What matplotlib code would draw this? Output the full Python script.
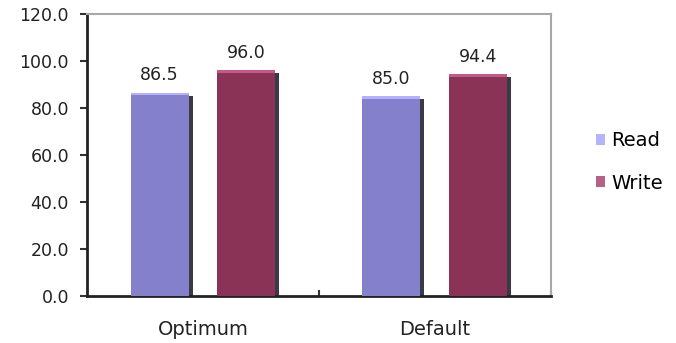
import matplotlib
matplotlib.use("Agg")
import matplotlib.pyplot as plt
import matplotlib.transforms as mtransforms
from matplotlib.patches import Patch
import numpy as np

categories = ["Optimum", "Default"]
series_names = ["Read", "Write"]
read_values = [86.5, 85.0]
write_values = [96.0, 94.4]
y_ticks = [0, 20, 40, 60, 80, 100, 120]

colors = {"Read": "#8480cc", "Write": "#8b3257"}
tops = {"Read": "#b4b0ff", "Write": "#c25a85"}
legend_colors = {"Read": "#b3b3ff", "Write": "#b86088"}

fig = plt.figure(figsize=(6.76, 3.43), dpi=100)
ax = fig.add_axes([87/676, 47/343, 464/676, 282/343])

x = np.arange(len(categories))
width = 0.25
offsets = [-0.1875, 0.1875]
shadow = mtransforms.ScaledTranslation(4/100, -3/100, fig.dpi_scale_trans)
for name, vals, off in zip(series_names, [read_values, write_values], offsets):
    # shadow
    ax.bar(x + off, vals, width, color="#3a3a44", zorder=2,
           transform=ax.transData + shadow, clip_on=True)
    bars = ax.bar(x + off, vals, width, color=colors[name], zorder=3)
    # lighter top edge
    ax.bar(x + off, [1.0]*len(vals), width, bottom=np.array(vals) - 1.0,
           color=tops[name], zorder=4)
    for xi, v in zip(x + off, vals):
        ax.annotate(f"{v:.1f}", (xi, v), xytext=(0, 6), textcoords="offset points",
                    ha="center", va="bottom", fontsize=12.5, color="#222222", zorder=5)

ax.set_xlim(-0.5, 1.5)
ax.set_ylim(0, 120)
ax.set_yticks(y_ticks)
ax.set_yticklabels([f"{t:.1f}" for t in y_ticks], fontsize=12.5, color="#222222")
ax.set_xticks(x)
ax.set_xticklabels(categories, fontsize=14, color="#222222")
ax.tick_params(axis="x", which="major", length=0, pad=17)
ax.set_xticks([0.5, 1.5], minor=True)
ax.tick_params(axis="x", which="minor", direction="in", length=4, width=1.5, color="#333333")
ax.tick_params(axis="y", direction="out", length=5, width=1.5, color="#333333", pad=8)

for s in ["left", "bottom"]:
    ax.spines[s].set_color("#222222")
    ax.spines[s].set_linewidth(2)
for s in ["top", "right"]:
    ax.spines[s].set_color("#a8a8a8")
    ax.spines[s].set_linewidth(1.5)

handles = [Patch(facecolor=legend_colors[n], edgecolor="none") for n in series_names]
fig.legend(handles, series_names, loc="center left", bbox_to_anchor=(578/676, 1 - 162/343),
           frameon=False, fontsize=14, handlelength=0.5, handleheight=0.5,
           handletextpad=0.3, labelspacing=1.2)

fig.savefig("out.png", dpi=100)
